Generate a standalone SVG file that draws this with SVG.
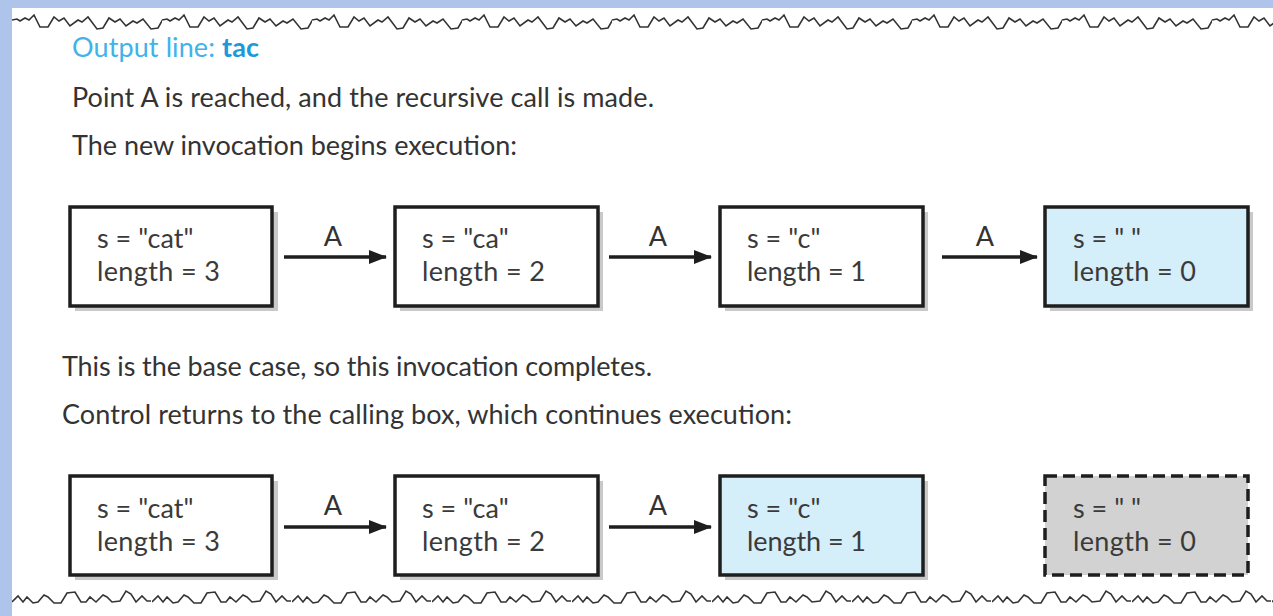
<svg xmlns="http://www.w3.org/2000/svg" width="1273" height="616" viewBox="0 0 1273 616">
<style>
.t{font-family:Lato,"Open Sans","Liberation Sans",sans-serif;font-size:27px;fill:#333}
.bt{font-family:Lato,"Open Sans","Liberation Sans",sans-serif;font-size:27px;fill:#3a3a3a}
.lab{font-family:Lato,"Open Sans","Liberation Sans",sans-serif;font-size:27px;fill:#333;text-anchor:middle}
.box{fill:#fff;stroke:#1e1e1e;stroke-width:3.5}
.blue{fill:#d4eefa}
.gray{fill:#d2d2d2;stroke-dasharray:12 6}
.sh{fill:#c9c9c9}
.conn{stroke:#1e1e1e;stroke-width:3.5;fill:none}
.edge{fill:none;stroke:#333;stroke-width:1.6}
</style>
<defs>
<marker id="ah" markerWidth="18" markerHeight="14" refX="17" refY="7" orient="auto" markerUnits="userSpaceOnUse" viewBox="0 0 18 14">
<path d="M0,0 L18,7 L0,14 z" fill="#1e1e1e"/>
</marker>
<pattern id="topTear" x="12" y="10" width="150" height="22" patternUnits="userSpaceOnUse">
<path class="edge" d="M0,10 l5,-1 l3,2 l5,-3 l4,2 l5,-5 l6,12 l8,0 l6,-10 l5,4 l5,-3 l6,8 l8,-6 l4,2 l6,-5 l9,12 l6,-1 l6,-10 l6,4 l5,-3 l6,7 l7,-5 l4,2 l6,-4 l8,10 l7,-1 l5,-9 l6,3 l4,2 l6,-5"/>
</pattern>
<pattern id="botTear" x="12" y="584" width="140" height="26" patternUnits="userSpaceOnUse">
<path class="edge" d="M0,18 l6,-6 l5,6 l4,-5 l6,6 l5,-1 l6,-7 l4,2 l6,6 l7,0 l6,-10 l8,-1 l6,10 l5,0 l4,-5 l6,5 l7,-7 l4,2 l5,5 l8,-1 l6,-10 l5,3 l5,8 l6,-6 l5,5 l4,0"/>
</pattern>
</defs>
<rect x="0" y="0" width="1273" height="616" fill="#aec4ea"/>
<rect x="12" y="8" width="1261" height="608" fill="#fff"/>
<rect x="12" y="10" width="1261" height="22" fill="url(#topTear)"/>
<rect x="12" y="584" width="1261" height="26" fill="url(#botTear)"/>

<g id="text">
<text x="72" y="57" class="t" style="fill:#41b2ea" textLength="187" lengthAdjust="spacing">Output line: <tspan font-weight="bold" fill="#1c9ad8">tac</tspan></text>
<text x="72" y="107" class="t" textLength="582" lengthAdjust="spacing">Point A is reached, and the recursive call is made.</text>
<text x="72" y="155" class="t" textLength="445" lengthAdjust="spacing">The new invocation begins execution:</text>
<text x="62" y="376" class="t" textLength="590" lengthAdjust="spacing">This is the base case, so this invocation completes.</text>
<text x="62" y="424" class="t" textLength="730" lengthAdjust="spacing">Control returns to the calling box, which continues execution:</text>
</g>

<g id="connectors">
<line class="conn" x1="284" y1="257" x2="386" y2="257" marker-end="url(#ah)"/>
<line class="conn" x1="609" y1="257" x2="711" y2="257" marker-end="url(#ah)"/>
<line class="conn" x1="942" y1="257" x2="1037" y2="257" marker-end="url(#ah)"/>
<line class="conn" x1="284" y1="527" x2="386" y2="527" marker-end="url(#ah)"/>
<line class="conn" x1="609" y1="527" x2="711" y2="527" marker-end="url(#ah)"/>
<text x="333" y="246" class="lab">A</text>
<text x="658" y="246" class="lab">A</text>
<text x="985" y="246" class="lab">A</text>
<text x="333" y="515" class="lab">A</text>
<text x="658" y="515" class="lab">A</text>
</g>

<g id="r1b1"><rect class="sh" x="75" y="212" width="203" height="99"/><rect class="box" x="70" y="207" width="202" height="99"/><text class="bt" x="97" y="248">s = "cat"</text><text class="bt" x="97" y="281" textLength="123" lengthAdjust="spacing">length = 3</text></g>
<g id="r1b2"><rect class="sh" x="400" y="212" width="203" height="99"/><rect class="box" x="395" y="207" width="203" height="99"/><text class="bt" x="422" y="248">s = "ca"</text><text class="bt" x="422" y="281" textLength="123" lengthAdjust="spacing">length = 2</text></g>
<g id="r1b3"><rect class="sh" x="725" y="212" width="203" height="99"/><rect class="box" x="720" y="207" width="203" height="99"/><text class="bt" x="747" y="248">s = "c"</text><text class="bt" x="747" y="281" textLength="119" lengthAdjust="spacing">length = 1</text></g>
<g id="r1b4"><rect class="sh" x="1050" y="212" width="203" height="99"/><rect class="box blue" x="1045" y="207" width="203" height="99"/><text class="bt" x="1073" y="248">s = " "</text><text class="bt" x="1073" y="281" textLength="123" lengthAdjust="spacing">length = 0</text></g>

<g id="r2b1"><rect class="sh" x="75" y="481" width="203" height="99"/><rect class="box" x="70" y="476" width="202" height="99"/><text class="bt" x="97" y="518">s = "cat"</text><text class="bt" x="97" y="551" textLength="123" lengthAdjust="spacing">length = 3</text></g>
<g id="r2b2"><rect class="sh" x="400" y="481" width="203" height="99"/><rect class="box" x="395" y="476" width="203" height="99"/><text class="bt" x="422" y="518">s = "ca"</text><text class="bt" x="422" y="551" textLength="123" lengthAdjust="spacing">length = 2</text></g>
<g id="r2b3"><rect class="sh" x="725" y="481" width="203" height="99"/><rect class="box blue" x="720" y="476" width="203" height="99"/><text class="bt" x="747" y="518">s = "c"</text><text class="bt" x="747" y="551" textLength="119" lengthAdjust="spacing">length = 1</text></g>
<g id="r2b4"><rect class="box gray" x="1045" y="476" width="203" height="99"/><text class="bt" x="1073" y="518">s = " "</text><text class="bt" x="1073" y="551" textLength="123" lengthAdjust="spacing">length = 0</text></g>
</svg>
